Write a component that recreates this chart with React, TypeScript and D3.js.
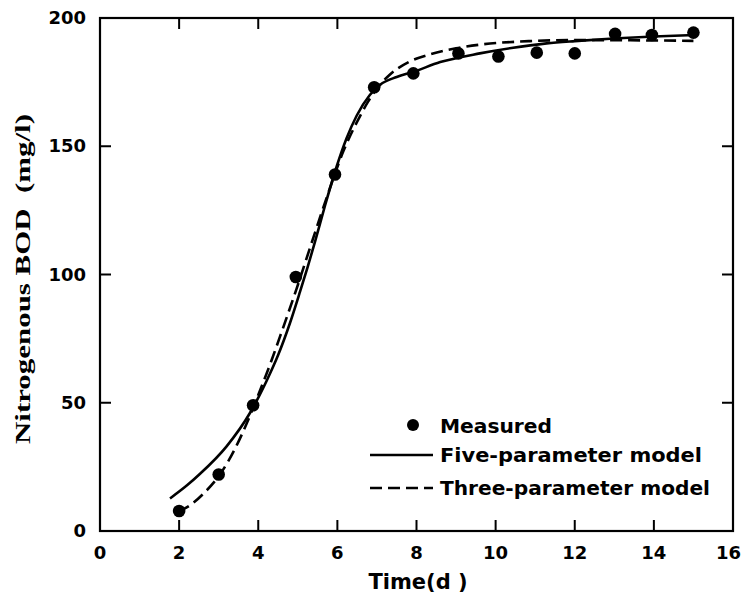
import React from "react";
import * as d3 from "d3";

const xTicks = [0, 2, 4, 6, 8, 10, 12, 14, 16];
const yTicks = [0, 50, 100, 150, 200];

const measuredTime = [2, 3, 3.87, 4.95, 5.94, 6.93, 7.92, 9.06, 10.07, 11.04, 12.0, 13.02, 13.95, 15.0];
const measuredBOD = [7.8, 22, 49, 99, 139, 173, 178.4, 186.2, 185, 186.5, 186.2, 193.8, 193.4, 194.3];

const fiveTime = [1.77, 2.2, 2.53, 3.2, 3.79, 4.21, 4.5, 4.8, 5.06, 5.25, 5.43, 5.69, 5.98, 6.23, 6.49, 6.82, 7.08, 7.5, 7.92, 8.6, 9.6, 10.4, 11.29, 12, 12.98, 14, 15.05];
const fiveBOD = [12.7, 17.8, 22.3, 33, 46, 58.5, 68.5, 81, 93.5, 103, 112.5, 127, 142, 153, 162, 170, 174, 177, 179, 182.8, 186.2, 188.3, 190.1, 191, 192, 192.8, 193.4];

const threeTime = [1.98, 2.3, 2.61, 3.03, 3.41, 3.71, 4.0, 4.3, 4.6, 4.97, 5.3, 5.73, 6.15, 6.53, 6.78, 7.0, 7.33, 7.8, 8.34, 9.0, 9.6, 10.87, 12, 13.4, 15.0];
const threeBOD = [7.5, 10.3, 14.5, 22, 32, 42, 53, 65, 78, 94.5, 110, 130, 148, 160.5, 167.5, 172.5, 178, 182.8, 185.8, 188.2, 189.6, 191, 191.4, 191.3, 191.1];

const legendLabels = ["Measured", "Five-parameter model", "Three-parameter model"];

const W = 743;
const H = 596;
const left = 100, right = 733, top = 18, bottom = 531;

export default function App() {
  const x = d3.scaleLinear().domain([0, 16]).range([left, right]);
  const y = d3.scaleLinear().domain([0, 200]).range([bottom, top]);
  const line = d3
    .line<[number, number]>()
    .x((d) => x(d[0]))
    .y((d) => y(d[1]))
    .curve(d3.curveMonotoneX);
  const fivePts: [number, number][] = fiveTime.map((t, i) => [t, fiveBOD[i]]);
  const threePts: [number, number][] = threeTime.map((t, i) => [t, threeBOD[i]]);
  const sans = "'DejaVu Sans', sans-serif";
  const tickLen = 11;
  return (
    <svg
      width={W}
      height={H}
      style={{ position: "absolute", left: 0, top: 0, background: "#fff" }}
    >
      <rect x={0} y={0} width={W} height={H} fill="#fff" />
      <rect x={left} y={top} width={right - left} height={bottom - top} fill="none" stroke="#000" strokeWidth={2.2} />
      {xTicks.slice(1, -1).map((t) => (
        <g key={"xt" + t}>
          <line x1={x(t)} x2={x(t)} y1={bottom} y2={bottom - tickLen} stroke="#000" strokeWidth={2} />
          <line x1={x(t)} x2={x(t)} y1={top} y2={top + tickLen} stroke="#000" strokeWidth={2} />
        </g>
      ))}
      {yTicks.slice(1, -1).map((t) => (
        <g key={"yt" + t}>
          <line x1={left} x2={left + tickLen} y1={y(t)} y2={y(t)} stroke="#000" strokeWidth={2} />
          <line x1={right} x2={right - tickLen} y1={y(t)} y2={y(t)} stroke="#000" strokeWidth={2} />
        </g>
      ))}
      {xTicks.map((t, i) => {
        const last = i === xTicks.length - 1;
        return (
          <text
            key={"xl" + t}
            x={last ? 741 : x(t)}
            y={559}
            textAnchor={last ? "end" : "middle"}
            fontFamily={sans}
            fontWeight="bold"
            fontSize={18}
          >
            {t}
          </text>
        );
      })}
      {yTicks.map((t) => (
        <text key={"yl" + t} x={86} y={y(t) + 6} textAnchor="end" fontFamily={sans} fontWeight="bold" fontSize={18}>
          {t}
        </text>
      ))}
      <text x={418} y={589} textAnchor="middle" fontFamily={sans} fontWeight="bold" fontSize={21}>
        Time(d )
      </text>
      <text
        transform={`translate(30,279) rotate(-90)`}
        textAnchor="middle"
        fontFamily="'Liberation Serif', 'Times New Roman', serif"
        fontWeight="bold"
        fontSize={22}
        textLength={330}
        lengthAdjust="spacingAndGlyphs"
        style={{ whiteSpace: "pre" }}
      >
        Nitrogenous BOD  (mg/l)
      </text>
      <path d={line(fivePts) || ""} fill="none" stroke="#000" strokeWidth={2.6} />
      <path d={line(threePts) || ""} fill="none" stroke="#000" strokeWidth={2.6} strokeDasharray="12,6" />
      {measuredTime.map((t, i) => (
        <circle key={"m" + i} cx={x(t)} cy={y(measuredBOD[i])} r={6.3} fill="#000" />
      ))}
      <circle cx={413} cy={425} r={6} fill="#000" />
      <text x={440} y={433} fontFamily={sans} fontWeight="bold" fontSize={19} textLength={112} lengthAdjust="spacingAndGlyphs">
        {legendLabels[0]}
      </text>
      <line x1={370} x2={433} y1={455} y2={455} stroke="#000" strokeWidth={2.6} />
      <text x={440} y={462} fontFamily={sans} fontWeight="bold" fontSize={19} textLength={262} lengthAdjust="spacingAndGlyphs">
        {legendLabels[1]}
      </text>
      <line x1={370} x2={433} y1={488} y2={488} stroke="#000" strokeWidth={2.6} strokeDasharray="12,6" />
      <text x={440} y={495} fontFamily={sans} fontWeight="bold" fontSize={19} textLength={270} lengthAdjust="spacingAndGlyphs">
        {legendLabels[2]}
      </text>
    </svg>
  );
}
